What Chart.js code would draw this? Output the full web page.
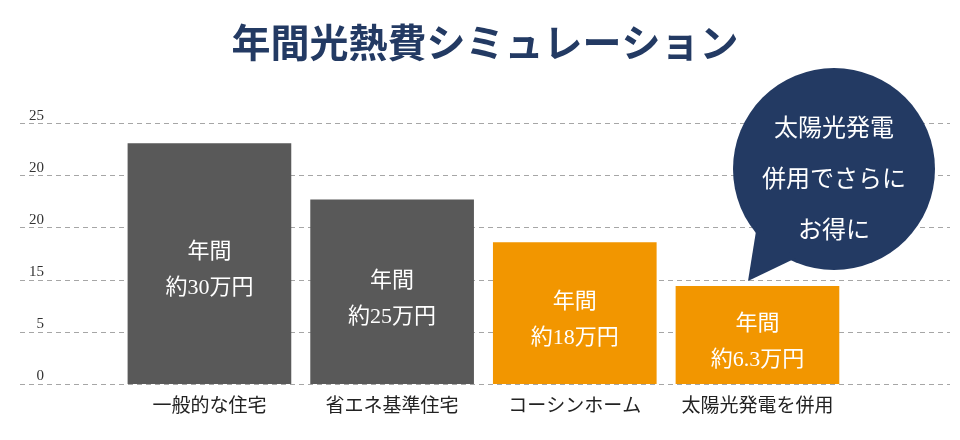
<!DOCTYPE html>
<html lang="ja">
<head>
<meta charset="utf-8">
<script src="https://cdn.jsdelivr.net/npm/chart.js@4/dist/chart.umd.min.js"></script>
<style>
  html, body { margin: 0; padding: 0; background: #fff; }
  #wrap { width: 960px; height: 440px; position: relative; }
</style>
</head>
<body>
<div id="wrap"><canvas id="c" width="960" height="440"></canvas></div>
<script>
// ---- data ----
const titleText = '年間光熱費シミュレーション';
const categories = ['一般的な住宅', '省エネ基準住宅', 'コーシンホーム', '太陽光発電を併用'];
const barHeights = [23.1, 17.7, 13.6, 9.4];
const barLabelTop = ['年間', '年間', '年間', '年間'];
const barLabelBottom = ['約30万円', '約25万円', '約18万円', '約6.3万円'];
const barColors = ['#595959', '#595959', '#f29600', '#f29600'];
const yTickValues = [0, 5, 10, 15, 20, 25];
const yTickLabels = ['0', '5', '15', '20', '20', '25'];
const bubbleLines = ['太陽光発電', '併用でさらに', 'お得に'];

const SERIF_MIX = "'Liberation Serif', 'Noto Sans CJK JP', serif";
const SANS_JP = "'Noto Sans CJK JP', sans-serif";

const barLabelPlugin = {
  id: 'barLabels',
  afterDatasetsDraw(chart) {
    const ctx = chart.ctx;
    const meta = chart.getDatasetMeta(0);
    ctx.save();
    ctx.fillStyle = '#ffffff';
    ctx.textAlign = 'center';
    ctx.textBaseline = 'middle';
    ctx.font = '22px ' + SERIF_MIX;
    meta.data.forEach((bar, i) => {
      const mid = (bar.y + bar.base) / 2 + 7;
      ctx.fillText(barLabelTop[i], bar.x, mid - 18);
      ctx.fillText(barLabelBottom[i], bar.x, mid + 18);
    });
    ctx.restore();
  }
};

const yLabelPlugin = {
  id: 'yLabels',
  afterDraw(chart) {
    const ctx = chart.ctx;
    const ys = chart.scales.y;
    ctx.save();
    ctx.fillStyle = '#333333';
    ctx.textAlign = 'right';
    ctx.textBaseline = 'alphabetic';
    ctx.font = '15px ' + SERIF_MIX;
    ys.ticks.forEach((t, i) => {
      const py = ys.getPixelForValue(t.value);
      ctx.fillText(yTickLabels[i], 44, py - 4);
    });
    ctx.restore();
  }
};

const bubblePlugin = {
  id: 'bubble',
  afterDraw(chart) {
    const ctx = chart.ctx;
    const cx = 834, cy = 169, r = 101;
    ctx.save();
    ctx.fillStyle = '#233a63';
    ctx.beginPath();
    ctx.arc(cx, cy, r, 0, Math.PI * 2);
    ctx.fill();
    ctx.beginPath();
    ctx.moveTo(757, 225);
    ctx.lineTo(748, 281);
    ctx.lineTo(796, 258);
    ctx.closePath();
    ctx.fill();
    ctx.fillStyle = '#ffffff';
    ctx.textAlign = 'center';
    ctx.textBaseline = 'middle';
    ctx.font = '24px ' + SANS_JP;
    const ys = [127, 178, 229];
    bubbleLines.forEach((t, i) => ctx.fillText(t, cx, ys[i]));
    ctx.restore();
  }
};

new Chart(document.getElementById('c'), {
  type: 'bar',
  data: {
    datasets: [{
      data: categories.map((c, i) => ({ x: i + 1, y: barHeights[i] })),
      backgroundColor: barColors,
      borderWidth: 0,
      barThickness: 163
    }]
  },
  options: {
    responsive: false,
    animation: false,
    devicePixelRatio: 1,
    layout: { padding: { left: 20, right: 10, top: 0, bottom: 15 } },
    plugins: {
      legend: { display: false },
      tooltip: { enabled: false },
      title: {
        display: true,
        text: titleText,
        color: '#233a63',
        font: { family: SANS_JP, size: 39, weight: 'bold' },
        padding: { top: 19, bottom: 58 }
      }
    },
    scales: {
      x: {
        type: 'linear',
        min: -0.037,
        max: 5.054,
        offset: false,
        grid: { display: false, drawTicks: false, offset: false },
        border: { display: false },
        afterBuildTicks: (scale) => { scale.ticks = categories.map((c, i) => ({ value: i + 1 })); },
        ticks: {
          autoSkip: false,
          maxRotation: 0,
          padding: 9,
          color: '#222222',
          font: { family: SANS_JP, size: 19 },
          callback: (v) => categories[v - 1] || ''
        }
      },
      y: {
        min: 0,
        max: 25,
        afterBuildTicks: (scale) => { scale.ticks = yTickValues.map(v => ({ value: v })); },
        grid: {
          color: '#a6a6a6',
          lineWidth: 1,
          drawTicks: false
        },
        border: { display: false, dash: [5, 4] },
        ticks: { display: false }
      }
    }
  },
  plugins: [barLabelPlugin, yLabelPlugin, bubblePlugin]
});
</script>
</body>
</html>
